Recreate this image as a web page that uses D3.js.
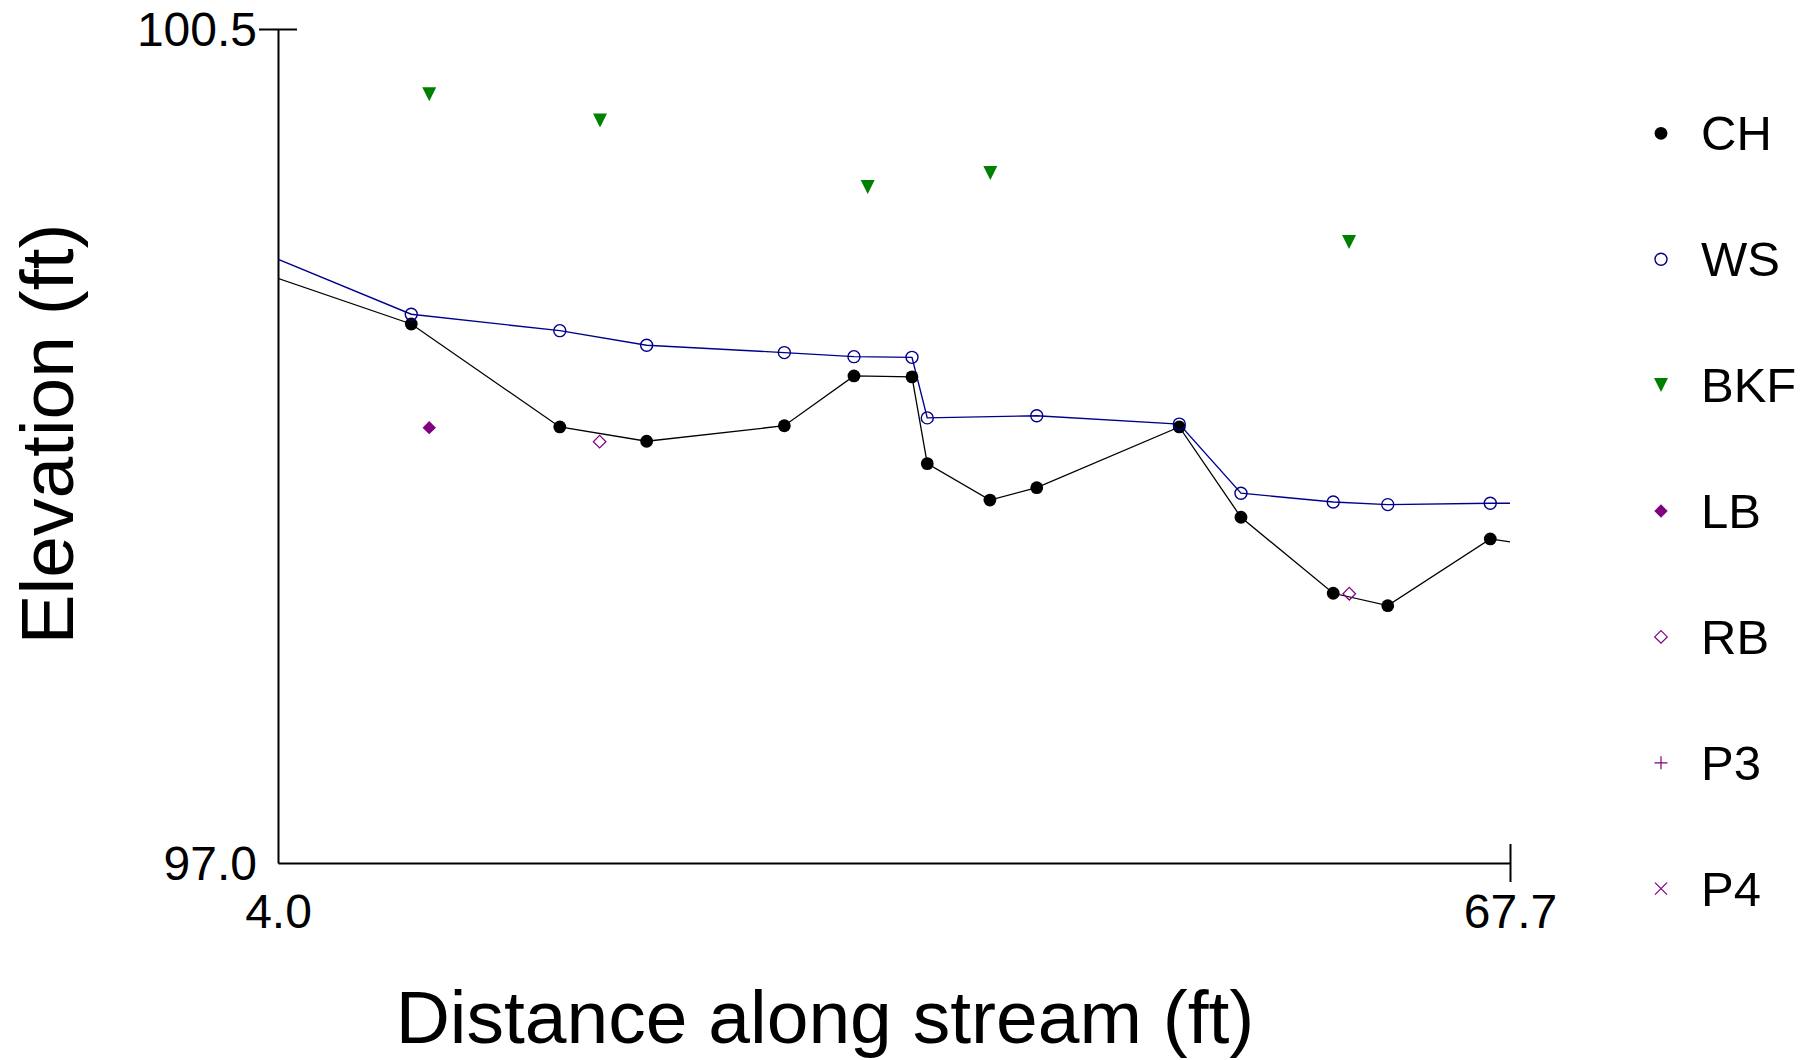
<!DOCTYPE html>
<html>
<head>
<meta charset="utf-8">
<script src="https://cdn.jsdelivr.net/npm/d3@7"></script>
<style>
  html, body { margin: 0; padding: 0; background: #fff; }
  svg { display: block; }
  text { font-family: "Liberation Sans", Arial, sans-serif; fill: #000; }
</style>
</head>
<body>
<svg id="chart" width="1818" height="1060"></svg>
<script>
// ---- data ----
const station = [0, 10.89, 18.57, 23.06, 30.18, 33.78, 36.78, 37.57, 40.81, 43.23, 50.60, 53.79, 58.56, 61.38, 66.68, 70];
const chElev  = [99.565, 99.262, 98.83, 98.77, 98.835, 99.044, 99.04, 98.676, 98.523, 98.575, 98.83, 98.451, 98.132, 98.08, 98.36, 98.32];
const wsStation = [0, 10.89, 18.57, 23.06, 30.18, 33.78, 36.78, 37.57, 43.23, 50.60, 53.79, 58.56, 61.38, 66.68, 70];
const wsElev    = [99.667, 99.303, 99.234, 99.173, 99.142, 99.125, 99.122, 98.868, 98.877, 98.842, 98.552, 98.515, 98.504, 98.51, 98.51];
const bkfX = [11.82, 20.65, 34.49, 40.83, 59.38];
const bkfY = [100.226, 100.116, 99.837, 99.896, 99.606];
const lbX = [11.82];
const lbY = [98.827];
const rbX = [20.63, 59.39];
const rbY = [98.768, 98.13];
const p3X = [], p3Y = [];
const p4X = [], p4Y = [];
const legendLabels = ["CH", "WS", "BKF", "LB", "RB", "P3", "P4"];
const xTicks = [4.0, 67.7];
const yTicks = [97.0, 100.5];
const xTitle = "Distance along stream (ft)";
const yTitle = "Elevation (ft)";

// ---- layout ----
const svg = d3.select("#chart");
const L = 278, R = 1510, T = 29, B = 863;
const x = d3.scaleLinear().domain([4.0, 67.7]).range([L, R]);
const y = d3.scaleLinear().domain([97.0, 100.5]).range([B, T]);

const navy = "#00008B", purple = "#800080", green = "#008000";

svg.append("defs").append("clipPath").attr("id", "plotclip")
  .append("rect").attr("x", L).attr("y", T - 10).attr("width", R - L).attr("height", B - T + 10);

// axes
const yAxis = svg.append("g").attr("transform", `translate(${L},0)`)
  .call(d3.axisLeft(y).tickValues(yTicks).tickFormat(d3.format(".1f")).tickSize(19).tickSizeOuter(0).tickPadding(2));
const xAxis = svg.append("g").attr("transform", `translate(0,${B})`)
  .call(d3.axisBottom(x).tickValues(xTicks).tickFormat(d3.format(".1f")).tickSize(19).tickSizeOuter(0));

[yAxis, xAxis].forEach(g => {
  g.select(".domain").attr("stroke", "#000").attr("stroke-width", 2);
  g.selectAll("text").style("font-family", '"Liberation Sans", Arial, sans-serif').style("font-size", "48px").attr("fill", "#000");
  g.selectAll(".tick line").attr("stroke", "#000").attr("stroke-width", 2);
});
yAxis.selectAll(".tick line").attr("x1", d => d === 100.5 ? -19 : 0).attr("x2", d => d === 100.5 ? 19 : 0);
yAxis.selectAll(".tick text").attr("dy", "0.35em");
xAxis.selectAll(".tick line").attr("y1", d => d === 67.7 ? -19 : 0).attr("y2", d => d === 67.7 ? 19 : 0);
xAxis.selectAll(".tick text").attr("y", 31).attr("dy", "0.71em");

// titles
svg.append("text").attr("x", 825).attr("y", 1043).attr("text-anchor", "middle")
  .style("font-size", "75px").text(xTitle);
svg.append("text").attr("transform", "translate(73,434) rotate(-90)").attr("text-anchor", "middle")
  .style("font-size", "75px").text(yTitle);

// plot
const plot = svg.append("g").attr("clip-path", "url(#plotclip)");
const line = d3.line().x(d => x(d[0])).y(d => y(d[1]));
const chData = station.map((s, i) => [s, chElev[i]]);
const wsData = wsStation.map((s, i) => [s, wsElev[i]]);

plot.append("path").attr("d", line(chData)).attr("fill", "none").attr("stroke", "#000").attr("stroke-width", 1.3);
plot.append("path").attr("d", line(wsData)).attr("fill", "none").attr("stroke", navy).attr("stroke-width", 1.4);

const tri = "M-7,-7L7,-7L0,7Z";
const dia = r => `M0,${-r}L${r},0L0,${r}L${-r},0Z`;
const plus = "M-6.5,0L6.5,0M0,-6.5L0,6.5";
const cross = "M-6,-6L6,6M-6,6L6,-6";

const markers = {
  CH: g => g.append("circle").attr("r", 6.4).attr("fill", "#000"),
  WS: g => g.append("circle").attr("r", 6).attr("fill", "none").attr("stroke", navy).attr("stroke-width", 1.4),
  BKF: g => g.append("path").attr("d", tri).attr("fill", green),
  LB: g => g.append("path").attr("d", dia(6.7)).attr("fill", purple),
  RB: g => g.append("path").attr("d", dia(6.3)).attr("fill", "none").attr("stroke", purple).attr("stroke-width", 1.2),
  P3: g => g.append("path").attr("d", plus).attr("fill", "none").attr("stroke", purple).attr("stroke-width", 1.2),
  P4: g => g.append("path").attr("d", cross).attr("fill", "none").attr("stroke", purple).attr("stroke-width", 1.2)
};

function drawPts(name, xs, ys) {
  xs.forEach((v, i) => {
    const g = plot.append("g").attr("transform", `translate(${x(v)},${y(ys[i])})`);
    markers[name](g);
  });
}
drawPts("CH", station, chElev);
drawPts("WS", wsStation, wsElev);
drawPts("BKF", bkfX, bkfY);
drawPts("LB", lbX, lbY);
drawPts("RB", rbX, rbY);
drawPts("P3", p3X, p3Y);
drawPts("P4", p4X, p4Y);

// legend
const leg = svg.append("g");
legendLabels.forEach((name, i) => {
  const cy = 133.3 + i * 125.9;
  const g = leg.append("g").attr("transform", `translate(1661,${cy})`);
  markers[name](g);
  leg.append("text").attr("x", 1701).attr("y", cy).attr("dy", "0.35em")
    .style("font-size", "49px").text(name);
});
</script>
</body>
</html>
